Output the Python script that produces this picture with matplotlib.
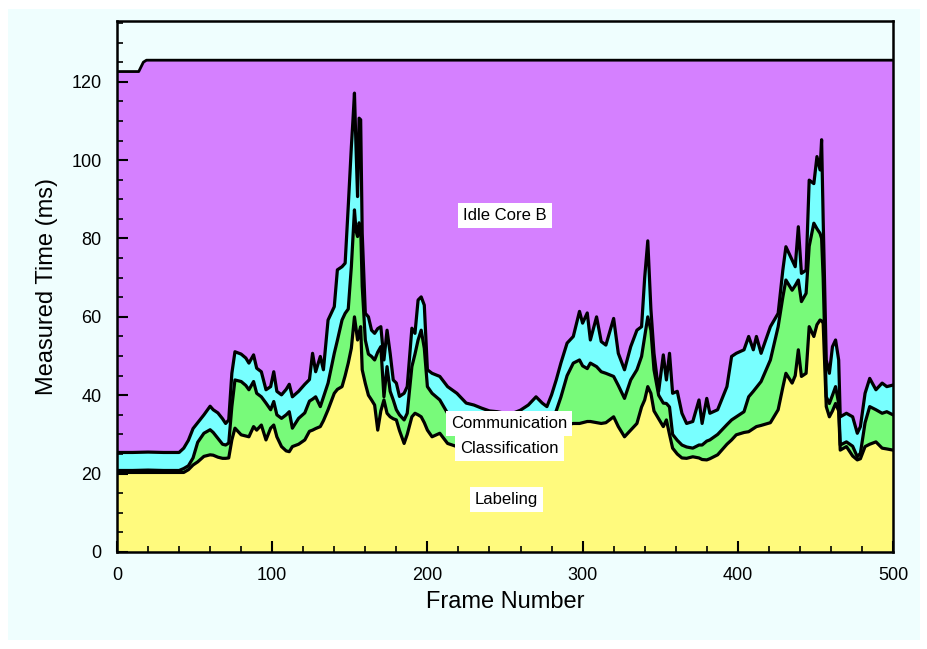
import numpy as np
import matplotlib.pyplot as plt
from matplotlib.patches import Rectangle

plt.rcParams['font.family'] = ['Liberation Sans', 'DejaVu Sans']

# frame numbers where the stack boundaries were read
frames = [0, 10, 20, 30, 40, 43, 46, 49, 52, 56,
          60, 62, 65, 68, 70, 72, 74, 76, 80, 83,
          85, 88, 90, 93, 96, 99, 101, 103, 106, 109,
          111, 113, 117, 121, 124, 126, 128, 131, 133, 136,
          140, 142, 145, 147, 149, 151, 152, 153, 154, 155,
          156, 157, 158, 160, 162, 164, 166, 168, 170, 172,
          174, 176, 178, 180, 182, 185, 187, 190, 192, 194,
          196, 198, 200, 203, 208, 213, 219, 225, 230, 235,
          240, 245, 250, 255, 260, 265, 270, 274, 277, 280,
          283, 286, 290, 294, 298, 300, 303, 305, 309, 312,
          315, 320, 323, 327, 331, 335, 338, 340, 342, 344,
          346, 349, 352, 354, 356, 358, 361, 364, 367, 371,
          375, 377, 380, 382, 387, 393, 396, 399, 404, 407,
          410, 412, 415, 421, 426, 429, 431, 435, 437, 439,
          441, 444, 446, 449, 451, 453, 454, 455, 457, 459,
          461, 463, 465, 466, 470, 474, 477, 479, 482, 485,
          489, 493, 496, 500]

# cumulative times (ms): top of Labeling
labeling_top = [20.3, 20.3, 20.3, 20.3, 20.3, 20.3, 21.0, 22.2, 23.0, 24.4,
                24.8, 24.7, 24.2, 23.9, 23.9, 24.0, 28.6, 31.6, 29.9, 29.6,
                29.4, 32.0, 31.1, 32.4, 28.6, 31.6, 32.4, 29.4, 26.9, 25.8,
                25.6, 26.9, 27.5, 28.6, 30.8, 31.1, 31.5, 32.0, 33.5, 36.3,
                40.5, 41.5, 42.2, 45.0, 48.2, 52.0, 56.0, 60.0, 57.0, 54.1,
                56.0, 57.5, 46.5, 43.0, 40.0, 38.8, 37.5, 31.1, 36.0, 38.8,
                35.4, 34.5, 34.0, 33.7, 31.0, 27.7, 30.0, 34.5, 35.4, 35.0,
                34.5, 33.0, 31.1, 29.4, 30.3, 27.7, 26.9, 26.5, 26.0, 25.8,
                25.5, 25.0, 24.5, 24.2, 24.0, 25.2, 26.9, 28.0, 29.0, 29.8,
                30.5, 31.5, 32.5, 32.8, 32.8, 33.0, 33.3, 33.3, 33.0, 32.8,
                33.0, 34.5, 32.0, 29.4, 31.1, 32.8, 37.0, 38.8, 42.2, 40.5,
                36.0, 34.0, 32.0, 33.7, 30.0, 26.5, 25.0, 24.0, 23.9, 24.3,
                24.0, 23.6, 23.5, 23.8, 24.8, 27.5, 28.6, 29.9, 30.5, 30.7,
                31.5, 32.0, 32.3, 33.0, 36.3, 42.0, 45.6, 43.1, 45.0, 51.6,
                44.8, 45.6, 57.5, 55.0, 58.0, 59.2, 59.0, 58.4, 37.1, 34.5,
                36.0, 37.9, 36.0, 26.0, 26.9, 24.5, 23.5, 23.8, 26.9, 27.5,
                28.1, 26.5, 26.3, 26.0]

# top of Classification
classification_top = [20.8, 20.8, 20.9, 20.8, 20.8, 21.3, 22.0, 24.0, 28.0, 30.3,
                      31.2, 30.5, 29.0, 27.5, 27.3, 27.8, 37.1, 43.9, 43.5, 42.5,
                      41.4, 43.5, 40.5, 39.6, 38.0, 36.3, 38.4, 35.0, 34.1, 35.0,
                      35.8, 31.6, 34.1, 35.5, 38.5, 39.0, 39.6, 37.1, 39.5, 43.1,
                      50.7, 54.0, 59.2, 60.9, 62.0, 72.8, 80.0, 87.3, 82.0, 80.5,
                      84.0, 83.0, 67.8, 54.1, 50.5, 49.9, 49.0, 51.0, 52.4, 39.6,
                      47.3, 41.0, 38.8, 36.3, 35.0, 33.7, 35.4, 47.3, 50.5, 54.1,
                      56.6, 52.0, 42.2, 40.5, 38.8, 35.4, 32.0, 30.5, 30.0, 29.5,
                      29.0, 28.5, 28.0, 28.0, 28.5, 29.5, 30.5, 31.0, 31.5, 33.0,
                      36.0, 39.5, 45.0, 48.2, 49.0, 47.5, 46.8, 48.2, 47.3, 46.0,
                      45.6, 44.8, 42.5, 39.2, 43.9, 46.5, 49.9, 55.0, 60.0, 56.6,
                      46.5, 40.0, 38.0, 37.9, 37.0, 30.0, 28.5, 27.3, 26.8, 26.5,
                      27.3, 27.3, 28.3, 28.6, 30.0, 32.5, 33.7, 34.5, 35.8, 39.6,
                      41.0, 42.0, 43.5, 49.0, 57.5, 65.0, 69.4, 66.8, 68.0, 69.4,
                      63.9, 66.0, 78.0, 83.9, 82.5, 81.3, 80.0, 70.0, 39.6, 37.9,
                      40.0, 42.2, 37.9, 27.3, 28.1, 27.0, 24.3, 25.2, 33.0, 37.1,
                      36.3, 35.4, 35.8, 35.0]

# top of Communication
communication_top = [25.4, 25.4, 25.5, 25.4, 25.4, 26.5, 28.5, 31.5, 33.0, 35.0,
                     37.2, 36.3, 35.5, 34.0, 32.8, 33.7, 45.6, 51.1, 50.5, 49.5,
                     48.2, 50.3, 46.9, 46.0, 41.4, 42.2, 46.0, 41.0, 40.1, 41.5,
                     42.8, 39.6, 41.0, 42.8, 44.0, 50.7, 46.0, 49.9, 46.5, 59.2,
                     62.6, 72.0, 72.8, 73.7, 88.2, 103.4, 110.0, 117.1, 103.4, 90.7,
                     110.7, 110.3, 81.3, 60.9, 60.0, 56.6, 55.8, 57.0, 57.5, 49.0,
                     56.6, 50.7, 43.9, 43.1, 39.7, 40.5, 42.2, 57.1, 55.8, 64.3,
                     65.1, 63.0, 46.5, 45.6, 44.8, 42.2, 40.5, 38.0, 37.5, 36.7,
                     36.0, 35.8, 35.4, 35.4, 36.2, 37.5, 39.6, 38.0, 37.1, 40.1,
                     43.9, 48.2, 53.3, 55.0, 61.4, 58.4, 61.0, 54.1, 60.0, 53.7,
                     52.8, 59.6, 50.7, 46.5, 52.4, 56.6, 57.5, 70.0, 79.4, 62.0,
                     50.7, 41.0, 50.3, 43.9, 50.7, 40.5, 41.0, 35.4, 32.8, 33.3,
                     38.8, 32.8, 39.2, 35.4, 36.3, 42.2, 49.9, 50.7, 51.6, 55.0,
                     51.6, 55.0, 50.7, 57.5, 60.9, 71.9, 77.9, 74.5, 72.8, 83.0,
                     71.1, 71.9, 94.9, 94.0, 100.9, 97.5, 105.2, 85.0, 49.0, 45.6,
                     52.4, 54.1, 49.0, 34.5, 35.4, 34.5, 30.3, 32.0, 40.5, 44.3,
                     41.4, 43.1, 42.2, 42.6]

# frame period (top of Idle Core B)
total_frames = [0, 14, 17, 19, 500]
total_time = [122.6, 122.6, 125.0, 125.5, 125.5]

bg = '#effefe'
c_label = '#fffa7d'
c_class = '#78fa7a'
c_comm = '#78ffff'
c_idle = '#d580ff'

fig = plt.figure(figsize=(9.28, 6.49), dpi=100, facecolor='white')
fig.patches.append(Rectangle((8 / 928, 9 / 649), 912 / 928, 631 / 649,
                             transform=fig.transFigure, facecolor=bg,
                             edgecolor='none', zorder=-10))
ax = fig.add_axes([117 / 928, 1 - 552 / 649, 776 / 928, 531 / 649])
ax.set_facecolor(bg)

x = np.array(frames)
lab = np.array(labeling_top)
cls = np.array(classification_top)
com = np.array(communication_top)

ax.fill_between(x, 0, lab, color=c_label, lw=0)
ax.fill_between(x, lab, cls, color=c_class, lw=0)
ax.fill_between(x, cls, com, color=c_comm, lw=0)
ax.fill(list(total_frames) + list(x[::-1]), list(total_time) + list(com[::-1]),
        color=c_idle, lw=0)

for ys in (lab, cls, com):
    ax.plot(x, ys, color='black', lw=2.3)
ax.plot(total_frames, total_time, color='black', lw=2.0)

box = dict(boxstyle='square,pad=0.3', fc='white', ec='none')
ax.text(250, 85.8, 'Idle Core B', ha='center', va='center', fontsize=12, bbox=box)
ax.text(252.5, 32.9, 'Communication', ha='center', va='center', fontsize=12, bbox=box)
ax.text(253, 26.3, 'Classification', ha='center', va='center', fontsize=12, bbox=box)
ax.text(251, 13.5, 'Labeling', ha='center', va='center', fontsize=12, bbox=box)

ax.set_xlim(0, 500)
ax.set_ylim(0, 135.5)
ax.set_xticks(range(0, 501, 100))
ax.set_xticks(range(0, 501, 20), minor=True)
ax.set_yticks(range(0, 121, 20))
ax.set_yticks(range(0, 136, 5), minor=True)
ax.tick_params(which='both', direction='in', top=False, right=False, labelsize=13)
ax.tick_params(which='major', length=8, width=1.5)
ax.tick_params(which='minor', length=4, width=1.2)
ax.tick_params(axis='x', which='major', pad=11)
ax.tick_params(axis='y', which='major', pad=11)
for s in ax.spines.values():
    s.set_linewidth(1.8)

ax.set_xlabel('Frame Number', fontsize=17, labelpad=5)
ax.set_ylabel('Measured Time (ms)', fontsize=17, labelpad=10)

fig.savefig('out.png', dpi=100, facecolor=fig.get_facecolor())
